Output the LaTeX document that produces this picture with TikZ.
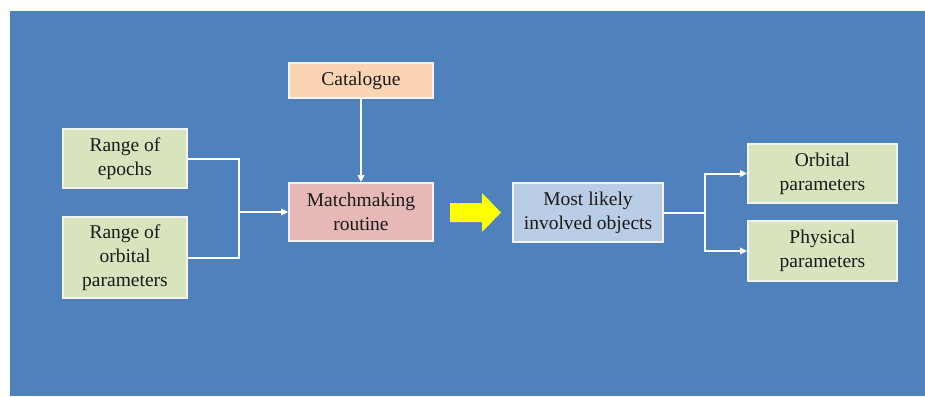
\documentclass[tikz,border=0pt]{standalone}
\usepackage{fontspec}
\setmainfont{Liberation Serif}
\usetikzlibrary{arrows.meta,shadows}
\definecolor{bgblue}{HTML}{4F81BD}
\definecolor{boxgreen}{HTML}{D7E4BD}
\definecolor{boxpeach}{HTML}{FBD4B4}
\definecolor{boxpink}{HTML}{E6B9B8}
\definecolor{boxblue}{HTML}{B9CDE5}
\definecolor{txt}{HTML}{1A1A1A}
\definecolor{arrowyellow}{HTML}{FFFF00}
\tikzset{
  box/.style={draw=white!95!black, line width=1.8pt, rectangle, align=center,
    inner sep=0pt, text=txt, font=\fontsize{19.5}{24}\selectfont,
    drop shadow={shadow xshift=1pt, shadow yshift=-1.5pt, opacity=0.25}},
  link/.style={draw=white, line width=2pt},
  flow/.style={link, -{Triangle[length=7pt,width=6.5pt]}}
}
\begin{document}
\begin{tikzpicture}[x=1pt,y=-1pt]
  \useasboundingbox (0,0) rectangle (925,396);
  \fill[white] (0,0) rectangle (925,396);
  \fill[bgblue] (10,11) rectangle (925,396);

  % inputs
  \node[box, fill=boxpeach, minimum width=144pt, minimum height=35pt] (cat) at (361,80.5) {Catalogue};
  \node[box, fill=boxgreen, minimum width=124pt, minimum height=59pt] (epochs) at (125,158.5) {Range of\\epochs};
  \node[box, fill=boxgreen, minimum width=124pt, minimum height=81pt] (orbrange) at (125,257.5) {Range of\\orbital\\parameters};
  \node[box, fill=boxpink, minimum width=144pt, minimum height=58pt] (match) at (361,212) {Matchmaking\\routine};

  % outputs
  \node[box, fill=boxblue, minimum width=150pt, minimum height=59pt] (likely) at (588,212.5) {Most likely\\involved objects};
  \node[box, fill=boxgreen, minimum width=149pt, minimum height=59pt] (orbpar) at (822.5,173.5) {Orbital\\parameters};
  \node[box, fill=boxgreen, minimum width=149pt, minimum height=60pt] (physpar) at (822.5,251) {Physical\\parameters};

  % yellow block arrow
  \fill[arrowyellow] (450,203) -- (482,203) -- (482,193) -- (501,212.5)
    -- (482,232) -- (482,222) -- (450,222) -- cycle;

  % connectors
  \coordinate (join) at (239,212);
  \coordinate (split) at (705,212.5);
  \draw[link] (epochs.east) -| (join);
  \draw[link] (orbrange.east) -| (join);
  \draw[flow] (join) -- (match.west);
  \draw[flow] (cat.south) -- (match.north);
  \draw[link] (likely.east) -- (split);
  \draw[flow] (split) |- (orbpar.west);
  \draw[flow] (split) |- (physpar.west);
\end{tikzpicture}
\end{document}
